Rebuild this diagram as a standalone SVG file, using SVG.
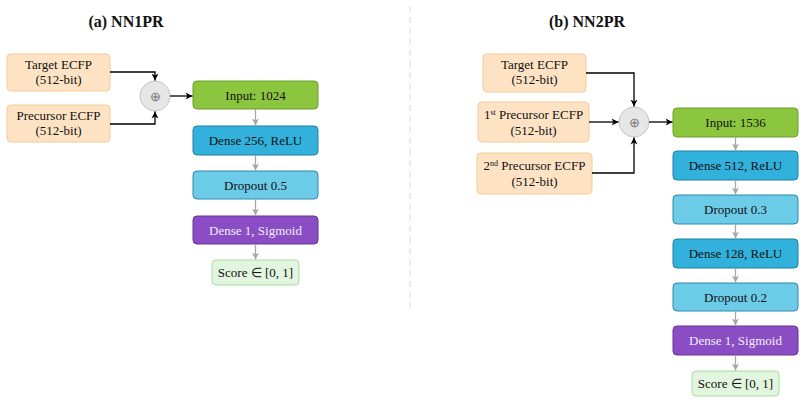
<svg xmlns="http://www.w3.org/2000/svg" width="805" height="403" viewBox="0 0 805 403">
<defs>
<marker id="ab" markerWidth="8" markerHeight="8" refX="7" refY="4" orient="auto" markerUnits="userSpaceOnUse"><path d="M0,0.5 L7,4 L0,7.5 L2,4 Z" fill="#000"/></marker>
<marker id="ag" markerWidth="8" markerHeight="8" refX="7" refY="4" orient="auto" markerUnits="userSpaceOnUse"><path d="M0,0.5 L7,4 L0,7.5 L2,4 Z" fill="#a6a6a6"/></marker>
<style>
text{font-family:"Liberation Serif","Times New Roman",serif;font-size:13px;text-anchor:middle;fill:#111}
.title{font-size:16px;font-weight:bold}
.in{fill:#fde3c4;stroke:#f8c996;stroke-width:1}
.inp{fill:#8cc63e;stroke:#6a9e2c;stroke-width:1}
.dense{fill:#32b1dc;stroke:#1f7fa3;stroke-width:1}
.drop{fill:#6ccbe7;stroke:#2b8aac;stroke-width:1}
.sig{fill:#8a4dc4;stroke:#6a3399;stroke-width:1}
.score{fill:#e2f5de;stroke:#a8dea0;stroke-width:1}
.cat{fill:#e6e6e6;stroke:#c4c4c4;stroke-width:1}
.w{fill:#f2eefa}
.k{fill:none;stroke:#000;stroke-width:1.3}
.g{fill:none;stroke:#a6a6a6;stroke-width:1.3}
.plus{fill:#777;font-size:13px}
</style>
</defs>
<rect width="805" height="403" fill="#fff"/>
<line x1="410" y1="6" x2="410" y2="308" stroke="#e2e2e2" stroke-width="1.3" stroke-dasharray="6 5"/>
<text class="title" x="126" y="27">(a) NN1PR</text>
<text class="title" x="587" y="27">(b) NN2PR</text>

<g id="a-target"><rect class="in" x="7" y="54" width="103" height="37" rx="4"/><text x="58.5" y="69">Target ECFP</text><text x="58.5" y="84">(512-bit)</text></g>
<g id="a-prec"><rect class="in" x="7" y="105" width="103" height="37" rx="4"/><text x="58.5" y="120">Precursor ECFP</text><text x="58.5" y="135">(512-bit)</text></g>
<g id="a-cat"><circle class="cat" cx="155" cy="96" r="15"/><text class="plus" x="155" y="100.5">⊕</text></g>
<g id="a-input"><rect class="inp" x="193" y="81" width="125" height="28" rx="4"/><text x="255.5" y="99.5">Input: 1024</text></g>
<g id="a-dense"><rect class="dense" x="193" y="126" width="125" height="29" rx="4"/><text x="255.5" y="145">Dense 256, ReLU</text></g>
<g id="a-drop"><rect class="drop" x="193" y="171" width="125" height="28" rx="4"/><text x="255.5" y="189.5">Dropout 0.5</text></g>
<g id="a-sig"><rect class="sig" x="193" y="216" width="125" height="28" rx="4"/><text class="w" x="255.5" y="234.5">Dense 1, Sigmoid</text></g>
<g id="a-score"><rect class="score" x="212" y="260" width="87" height="25" rx="4"/><text x="255.5" y="277">Score ∈ [0, 1]</text></g>

<g id="b-target"><rect class="in" x="483" y="54" width="103" height="38" rx="4"/><text x="534.5" y="69">Target ECFP</text><text x="534.5" y="84">(512-bit)</text></g>
<g id="b-prec1"><rect class="in" x="478" y="102" width="111" height="40" rx="4"/><text x="533.5" y="119">1<tspan font-size="8" dy="-4">st</tspan><tspan dy="4"> Precursor ECFP</tspan></text><text x="533.5" y="135">(512-bit)</text></g>
<g id="b-prec2"><rect class="in" x="477" y="153" width="115" height="41" rx="4"/><text x="534.5" y="170">2<tspan font-size="8" dy="-4">nd</tspan><tspan dy="4"> Precursor ECFP</tspan></text><text x="534.5" y="186">(512-bit)</text></g>
<g id="b-cat"><circle class="cat" cx="634" cy="122" r="15"/><text class="plus" x="634" y="126.5">⊕</text></g>
<g id="b-input"><rect class="inp" x="673" y="108" width="125" height="29" rx="4"/><text x="735.5" y="127">Input: 1536</text></g>
<g id="b-dense1"><rect class="dense" x="673" y="151" width="125" height="29" rx="4"/><text x="735.5" y="170">Dense 512, ReLU</text></g>
<g id="b-drop1"><rect class="drop" x="673" y="195" width="125" height="29" rx="4"/><text x="735.5" y="214">Dropout 0.3</text></g>
<g id="b-dense2"><rect class="dense" x="673" y="239" width="125" height="29" rx="4"/><text x="735.5" y="258">Dense 128, ReLU</text></g>
<g id="b-drop2"><rect class="drop" x="673" y="283" width="125" height="28" rx="4"/><text x="735.5" y="301.5">Dropout 0.2</text></g>
<g id="b-sig"><rect class="sig" x="673" y="326" width="125" height="29" rx="4"/><text class="w" x="735.5" y="345">Dense 1, Sigmoid</text></g>
<g id="b-score"><rect class="score" x="692" y="371" width="87" height="25" rx="4"/><text x="735.5" y="388">Score ∈ [0, 1]</text></g>

<g id="connectors">
<path class="k" d="M110,72 H155 V80.5" marker-end="url(#ab)"/>
<path class="k" d="M110,124 H155 V111.5" marker-end="url(#ab)"/>
<path class="k" d="M170,96 H192.5" marker-end="url(#ab)"/>
<path class="g" d="M255.5,109 V125.5" marker-end="url(#ag)"/>
<path class="g" d="M255.5,155 V170.5" marker-end="url(#ag)"/>
<path class="g" d="M255.5,199 V215.5" marker-end="url(#ag)"/>
<path class="g" d="M255.5,244 V259.5" marker-end="url(#ag)"/>
<path class="k" d="M586,73 H634 V106.5" marker-end="url(#ab)"/>
<path class="k" d="M589,122 H618.5" marker-end="url(#ab)"/>
<path class="k" d="M592,173 H634 V137.5" marker-end="url(#ab)"/>
<path class="k" d="M649,122 H672.5" marker-end="url(#ab)"/>
<path class="g" d="M735.5,137 V150.5" marker-end="url(#ag)"/>
<path class="g" d="M735.5,180 V194.5" marker-end="url(#ag)"/>
<path class="g" d="M735.5,224 V238.5" marker-end="url(#ag)"/>
<path class="g" d="M735.5,268 V282.5" marker-end="url(#ag)"/>
<path class="g" d="M735.5,311 V325.5" marker-end="url(#ag)"/>
<path class="g" d="M735.5,355 V370.5" marker-end="url(#ag)"/>
</g>
</svg>
